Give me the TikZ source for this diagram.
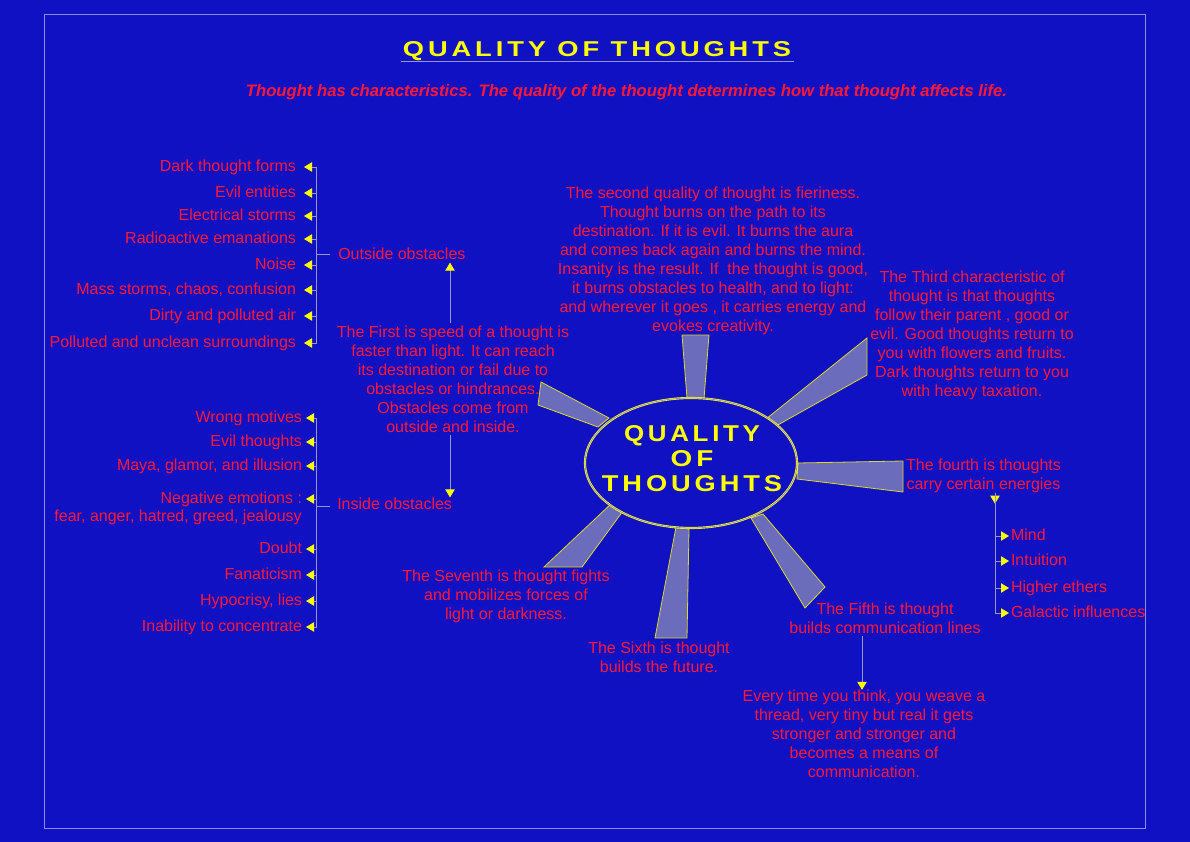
\documentclass[tikz,border=0pt]{standalone}
\usepackage{fontspec}
\setmainfont{Liberation Sans}
\newfontfamily\titlefont[LetterSpace=20,FakeStretch=1.4]{Liberation Sans}
\usetikzlibrary{arrows.meta,shapes.geometric,calc}
\definecolor{bgblue}{RGB}{17,17,196}
\definecolor{redtxt}{RGB}{255,24,52}
\definecolor{ylw}{RGB}{255,255,0}
\definecolor{lin}{RGB}{150,150,205}
\definecolor{frm}{RGB}{140,140,235}
\definecolor{rayf}{RGB}{108,108,188}
\tikzset{
  every node/.style={inner sep=0pt},
  lbl/.style={text=redtxt, font=\fontsize{12}{14.25}\selectfont, align=center},
  item/.style={lbl, text height=8.6pt, text depth=2.4pt},
  itemL/.style={item, anchor=east, outer xsep=6pt},
  itemI/.style={item, anchor=east, outer xsep=3pt},
  itemR/.style={item, anchor=west, outer xsep=1.5pt},
  conn/.style={draw=lin, line width=0.7pt},
  arr/.style={conn, -{Triangle[length=6pt,width=7pt,color=ylw]}},
  ray/.style={fill=rayf, draw=ylw!70!gray, line width=0.6pt},
  bigt/.style={text=ylw, font=\titlefont\bfseries}
}
\begin{document}
\begin{tikzpicture}[x=0.75pt,y=-0.75pt]
\fill[bgblue] (0,0) rectangle (1190,842);
\useasboundingbox (0,0) rectangle (1190,842);
\draw[frm, line width=0.6pt] (44,14) rectangle (1145,828);

% title
\node[bigt] (title) at (597,51) {\resizebox{291pt}{11.25pt}{QUALITY OF THOUGHTS}};
\draw[lin, line width=0.6pt] (401,61) -- (794,61);
\node[text=redtxt, font=\bfseries\itshape] (sub) at (626.5,92)
  {\resizebox{570.75pt}{!}{Thought has characteristics. The quality of the thought determines how that thought affects life.}};

% rays
\draw[ray] (682,335) -- (709,335) -- (704,399) -- (687,398) -- cycle;
\draw[ray] (541,382) -- (609,418) -- (598,427) -- (538,405) -- cycle;
\draw[ray] (766,419) -- (867,338) -- (867,375) -- (776,426) -- cycle;
\draw[ray] (798,463) -- (903,461) -- (903,492) -- (797,479) -- cycle;
\draw[ray] (751,518) -- (763,514) -- (825,587) -- (805,608) -- cycle;
\draw[ray] (676,527) -- (689,529) -- (687,638) -- (655,638) -- cycle;
\draw[ray] (612,503) -- (623,511) -- (582,567) -- (544,567) -- cycle;

% central ellipse
\node[ellipse, draw=ylw, double=lin, double distance=0.6pt, line width=0.5pt,
      fill=bgblue, minimum width=159pt, minimum height=97.5pt] (core) at (691,463) {};
\node[bigt, align=center, font=\titlefont\bfseries\fontsize{12}{18.75}\selectfont] (coretext) at (692,459)
  {\resizebox{102pt}{12pt}{QUALITY}\\\resizebox{32pt}{12pt}{OF}\\\resizebox{135pt}{12pt}{THOUGHTS}};

% description texts
\node[lbl] (second) at (713,260.5) {The second quality of thought is fieriness.\\Thought burns on the path to its\\destination. If it is evil. It burns the aura\\and comes back again and burns the mind.\\Insanity is the result. If\ \ the thought is good,\\it burns obstacles to health, and to light:\\and wherever it goes , it carries energy and\\evokes creativity.};
\node[lbl] (first) at (453,379) {The First is speed of a thought is\\faster than light. It can reach\\its destination or fail due to\\obstacles or hindrances.\\Obstacles come from\\outside and inside.};
\node[lbl] (third) at (972,335.5) {The Third characteristic of\\thought is that thoughts\\follow their parent , good or\\evil. Good thoughts return to\\you with flowers and fruits.\\Dark thoughts return to you\\with heavy taxation.};
\node[lbl] (fourth) at (983.5,475.5) {The fourth is thoughts\\carry certain energies};
\node[lbl] (fifth) at (885,618.5) {The Fifth is thought\\builds communication lines};
\node[lbl] (every) at (864,734) {Every time you think, you weave a\\thread, very tiny but real it gets\\stronger and stronger and\\becomes a means of\\communication.};
\node[lbl] (sixth) at (659,657.5) {The Sixth is thought\\builds the future.};
\node[lbl] (seventh) at (506,596) {The Seventh is thought fights\\and mobilizes forces of\\light or darkness.};

% outside obstacles
\node[item, anchor=west] (outside) at (338,255) {Outside obstacles};
\node[itemL] (o1) at (304,167) {Dark thought forms};
\node[itemL] (o2) at (304,193) {Evil entities};
\node[itemL] (o3) at (304,216) {Electrical storms};
\node[itemL] (o4) at (304,239) {Radioactive emanations};
\node[itemL] (o5) at (304,265) {Noise};
\node[itemL] (o6) at (304,290) {Mass storms, chaos, confusion};
\node[itemL] (o7) at (304,316) {Dirty and polluted air};
\node[itemL] (o8) at (304,343) {Polluted and unclean surroundings};
\foreach \n in {o1,o2,o3,o4,o5,o6,o7,o8}
  \draw[arr] ($(outside.west)+(-8,-1)$) -- ++(-14,0) |- (\n.east);

% inside obstacles
\node[item, anchor=west] (inside) at (337,505) {Inside obstacles};
\node[itemI] (i1) at (306,418) {Wrong motives};
\node[itemI] (i2) at (306,442) {Evil thoughts};
\node[itemI] (i3) at (306,466) {Maya, glamor, and illusion};
\node[itemI] (i4) at (306,499) {Negative emotions :};
\node[item, anchor=east] (i4b) at (302,517) {fear, anger, hatred, greed, jealousy};
\node[itemI] (i5) at (306,549) {Doubt};
\node[itemI] (i6) at (306,575) {Fanaticism};
\node[itemI] (i7) at (306,601) {Hypocrisy, lies};
\node[itemI] (i8) at (306,627) {Inability to concentrate};
\foreach \n in {i1,i2,i3,i4,i5,i6,i7,i8}
  \draw[arr] ($(inside.west)+(-7,1)$) -- ++(-14,0) |- (\n.east);

% first -> outside / inside
\coordinate (fx) at (450,0);
\draw[arr] ($(first.north -| fx)+(0,-2)$) -- (outside.south -| fx);
\draw[arr] ($(first.south -| fx)+(0,2)$) -- (inside.north -| fx);

% fourth -> energies
\coordinate (rx) at (995,0);
\node[itemR] (mind) at (1009,536) {Mind};
\node[itemR] (intu) at (1009,561) {Intuition};
\node[itemR] (high) at (1009,588) {Higher ethers};
\node[itemR] (gal) at (1009,613) {Galactic influences};
\draw[arr] (fourth.south -| rx) -- ++(0,11);
\foreach \n in {mind,intu,high,gal}
  \draw[arr] (fourth.south -| rx) |- (\n.west);

% fifth -> every
\draw[arr] ($(every.north |- fifth.south)+(-2,2)$) -- ($(every.north)+(-2,0)$);
\end{tikzpicture}
\end{document}
